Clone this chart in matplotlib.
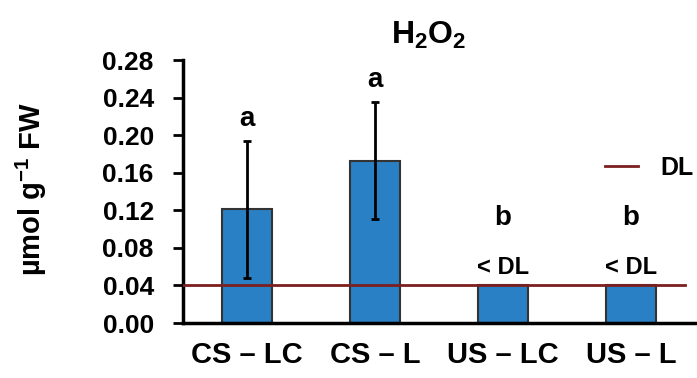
import matplotlib
matplotlib.use("Agg")
import matplotlib.pyplot as plt
import numpy as np

# dados
categorias = ["CS – LC", "CS – L", "US – LC", "US – L"]
valores = [0.121, 0.173, 0.041, 0.041]
erros = [0.073, 0.062, 0.0, 0.0]
letras = ["a", "a", "b", "b"]
letras_y = [0.217, 0.259, 0.112, 0.112]
abaixo_dl = ["", "", "< DL", "< DL"]
limite_dl = 0.04

plt.rcParams["font.family"] = ["Liberation Sans", "DejaVu Sans"]
plt.rcParams["font.weight"] = "bold"
plt.rcParams["mathtext.fontset"] = "custom"
plt.rcParams["mathtext.rm"] = "Liberation Sans:bold"
plt.rcParams["mathtext.it"] = "Liberation Sans:bold"
plt.rcParams["mathtext.bf"] = "Liberation Sans:bold"
plt.rcParams["mathtext.default"] = "rm"

fig = plt.figure(figsize=(6.97, 3.78), dpi=100)
ax = fig.add_axes([0.2626, 0.1455, 0.7344, 0.6955])

x = np.arange(len(categorias))
ax.bar(x, valores, width=0.39, color="#2a80c4", edgecolor="#333333", linewidth=1.5, zorder=2)
for i in range(len(x)):
    if erros[i] > 0:
        ax.errorbar(x[i], valores[i], yerr=erros[i], fmt="none", ecolor="black",
                    elinewidth=2, capsize=3, capthick=2, zorder=3)

ax.plot([-0.5, 3.42], [limite_dl, limite_dl], color="#7b1f1f", linewidth=2, zorder=4, label="DL")

for i in range(len(x)):
    ax.text(x[i], letras_y[i], letras[i], ha="center", va="center", fontsize=20, fontweight="bold")
    if abaixo_dl[i]:
        ax.text(x[i], 0.059, abaixo_dl[i], ha="center", va="center", fontsize=17, fontweight="bold")

ax.set_xlim(-0.5, 3.5)
ax.set_ylim(0, 0.28)
ax.set_yticks(np.arange(0, 0.281, 0.04))
ax.set_yticklabels([f"{v:.2f}" for v in np.arange(0, 0.281, 0.04)])
ax.set_xticks(x)
ax.set_xticklabels(categorias)
ax.tick_params(axis="y", labelsize=19, width=2, length=7, pad=14)
ax.tick_params(axis="x", labelsize=21, length=0, pad=13)
for s in ["top", "right"]:
    ax.spines[s].set_visible(False)
ax.spines["left"].set_linewidth(2.5)
ax.spines["bottom"].set_linewidth(2.5)

ax.set_title(r"H$_2$O$_2$", fontsize=23, fontweight="bold", pad=12, x=0.48)
fig.text(0.045, 0.50, r"µmol g$^{-1}$ FW", rotation=90, ha="center", va="center",
         fontsize=21, fontweight="bold")

ax.legend(loc="center left", bbox_to_anchor=(0.825, 0.59), frameon=False, fontsize=18,
          handlelength=1.3, handletextpad=0.9, borderpad=0, borderaxespad=0)

fig.savefig("out.png", dpi=100)
